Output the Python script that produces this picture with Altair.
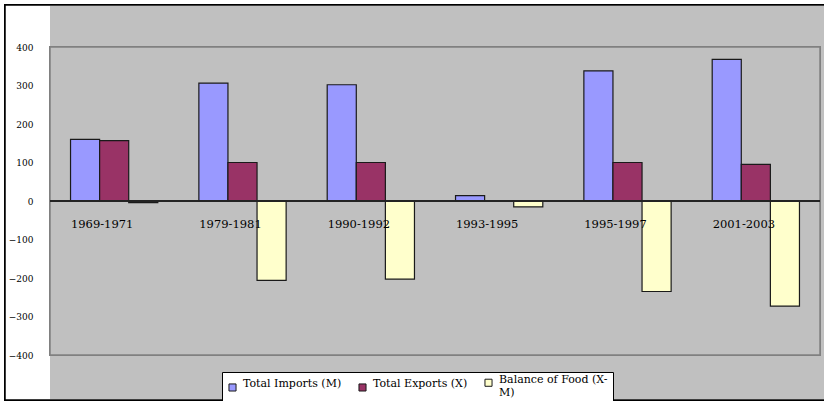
import altair as alt
import pandas as pd

# Food trade by period
periods = ["1969-1971", "1979-1981", "1990-1992", "1993-1995", "1995-1997", "2001-2003"]
series = ["Total Imports (M)", "Total Exports (X)", "Balance of Food (X-M)"]
imports = [160, 306, 302, 14, 338, 368]
exports = [157, 100, 100, 0, 100, 95]
balance = [-4, -206, -203, -15, -235, -273]
y_ticks = [-400, -300, -200, -100, 0, 100, 200, 300, 400]
colors = ["#9999FF", "#993366", "#FFFFCC"]

rows = []
for i, p in enumerate(periods):
    for s, vals in zip(series, [imports, exports, balance]):
        rows.append({"period": p, "series": s, "value": vals[i]})
df = pd.DataFrame(rows)
labels_df = pd.DataFrame({"period": periods})

W, H = 770, 308

x_scale = alt.Scale(domain=periods, paddingInner=0.32, paddingOuter=0.16)
y_scale = alt.Scale(domain=[-400, 400], nice=False, zero=False)
y_axis = alt.Axis(
    values=y_ticks,
    title=None,
    grid=False,
    domain=False,
    ticks=False,
    labelPadding=17,
    labelFont="DejaVu Serif",
    labelFontSize=9,
    labelColor="black",
    zindex=2,
)

# Chart frame: white left strip with outer border, grey chart area
frame = alt.Chart(labels_df).mark_rect(fill="white", stroke="black", strokeWidth=1.5).encode(
    x=alt.value(-45), x2=alt.value(W + 10), y=alt.value(-42), y2=alt.value(H + 45)
)
chart_area = alt.Chart(labels_df).mark_rect(fill="#C0C0C0").encode(
    x=alt.value(0), x2=alt.value(W + 10), y=alt.value(-41), y2=alt.value(H + 44)
)
plot_area = alt.Chart(labels_df).mark_rect(fill="#C0C0C0", stroke="#808080", strokeWidth=1.5).encode(
    x=alt.value(0), x2=alt.value(W), y=alt.value(0), y2=alt.value(H)
)

bars = alt.Chart(df).mark_bar(stroke="#1a1a1a", strokeWidth=1.2).encode(
    x=alt.X("period:N", sort=periods, scale=x_scale, axis=None),
    xOffset=alt.XOffset("series:N", sort=series, scale=alt.Scale(domain=series, paddingInner=0, paddingOuter=0)),
    y=alt.Y("value:Q", scale=y_scale, axis=y_axis),
    y2=alt.datum(0),
    color=alt.Color(
        "series:N",
        sort=series,
        scale=alt.Scale(domain=series, range=colors),
        legend=alt.Legend(
            title=None,
            orient="none",
            legendX=172,
            legendY=325,
            direction="horizontal",
            fillColor="white",
            strokeColor="black",
            padding=5,
            symbolType="square",
            symbolSize=50,
            symbolStrokeColor="#1a1a1a",
            symbolStrokeWidth=1,
            labelFont="DejaVu Serif",
            labelFontSize=11,
            labelColor="black",
            labelOffset=5,
            labelBaseline="alphabetic",
            columnPadding=14,
            labelExpr="datum.label == 'Balance of Food (X-M)' ? ['Balance of Food (X-', 'M)'] : datum.label",
        ),
    ),
)

zero_line = alt.Chart(labels_df).mark_rule(color="#222222", strokeWidth=1.2).encode(
    y=alt.Y("z:Q", scale=y_scale, axis=y_axis)
).transform_calculate(z="0")

cat_labels = alt.Chart(labels_df).mark_text(
    font="DejaVu Serif", fontSize=11.5, color="black", dx=-12, dy=24, baseline="middle"
).encode(
    x=alt.X("period:N", sort=periods, scale=x_scale, axis=None),
    y=alt.Y("z:Q", scale=y_scale, axis=y_axis),
    text="period:N",
).transform_calculate(z="0")

chart = (
    alt.layer(frame, chart_area, plot_area, bars, zero_line, cat_labels)
    .properties(
        width=W,
        height=H,
        autosize=alt.AutoSizeParams(type="none"),
        padding={"left": 50, "top": 47, "right": 4, "bottom": 46},
        background="white",
    )
    .configure_view(stroke=None)
)

chart.save("out.html", embed_options={"renderer": "svg", "actions": False})
